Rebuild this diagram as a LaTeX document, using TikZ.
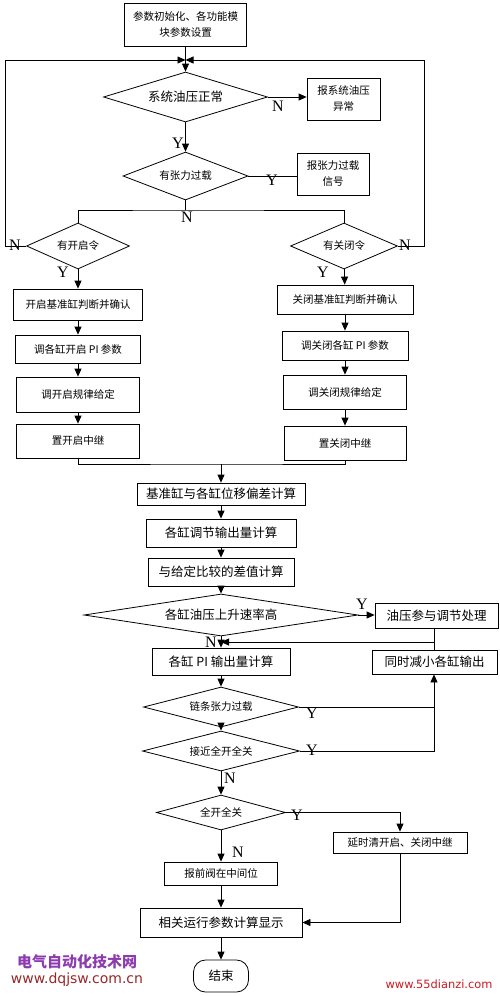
\documentclass[tikz,border=0pt]{standalone}
\usepackage{fontspec}
\setmainfont{Noto Sans CJK SC}
\newfontfamily\ynfont{Liberation Serif}
\newfontfamily\wmfont{DejaVu Sans}
\usepackage{tikz}
\usetikzlibrary{arrows.meta, shapes.geometric}
\definecolor{wmpurple}{RGB}{140,60,175}
\definecolor{wmbrown}{RGB}{150,40,40}
\definecolor{wmred}{RGB}{205,25,35}
\tikzstyle{box}=[rectangle, draw, align=center, inner sep=1pt, font=\fontsize{10.5}{16}\selectfont]
\tikzstyle{bigbox}=[box, font=\fontsize{12.5}{15}\selectfont]
\tikzstyle{ask}=[diamond, draw, inner sep=0pt, font=\fontsize{10.5}{14}\selectfont]
\tikzstyle{bigask}=[ask, font=\fontsize{12.5}{15}\selectfont]
\tikzstyle{yn}=[inner sep=0pt, font=\ynfont\fontsize{16}{16}\selectfont]

\begin{document}
\begin{tikzpicture}[x=1pt, y=-1pt, >={Triangle[length=8pt, width=7pt]}, line width=0.8pt]
    \useasboundingbox (0,0) rectangle (500,996);

    % checks at the top
    \node[box, minimum width=122, minimum height=43] (init) at (185.5,24.5) {参数初始化、各功能模\\块参数设置};
    \node[bigask, minimum width=164, minimum height=50, aspect=3.3] (d1) at (185.5,97) {系统油压正常};
    \node[box, minimum width=73, minimum height=42] (e1) at (343.5,99) {报系统油压\\异常};
    \node[ask, minimum width=125, minimum height=48, aspect=2.6] (d2) at (185.5,176) {有张力过载};
    \node[box, minimum width=72, minimum height=42] (e2) at (333,174) {报张力过载\\信号};
    \node[ask, minimum width=103, minimum height=46, aspect=2.2] (d3) at (78,246) {有开启令};
    \node[ask, minimum width=107, minimum height=46, aspect=2.3] (d4) at (344,246) {有关闭令};

    % open branch
    \node[box, minimum width=129, minimum height=31] (a1) at (78,304.5) {开启基准缸判断并确认};
    \node[box, minimum width=125, minimum height=28] (a2) at (78,349) {调各缸开启 PI 参数};
    \node[box, minimum width=123, minimum height=35] (a3) at (78,394.5) {调开启规律给定};
    \node[box, minimum width=123, minimum height=34] (a4) at (78,441) {置开启中继};

    % close branch
    \node[box, minimum width=136, minimum height=29] (b1) at (345,299.5) {关闭基准缸判断并确认};
    \node[box, minimum width=126, minimum height=29] (b2) at (345,345.5) {调关闭各缸 PI 参数};
    \node[box, minimum width=123, minimum height=34] (b3) at (345,392) {调关闭规律给定};
    \node[box, minimum width=122, minimum height=34] (b4) at (345,443) {置关闭中继};

    % control part
    \node[bigbox, minimum width=168, minimum height=22] (c1) at (221,494) {基准缸与各缸位移偏差计算};
    \node[bigbox, minimum width=150, minimum height=28] (c2) at (221,533) {各缸调节输出量计算};
    \node[bigbox, minimum width=146, minimum height=28] (c3) at (221,572) {与给定比较的差值计算};
    \node[bigask, minimum width=274, minimum height=42, aspect=6.5] (d5) at (221,615) {各缸油压上升速率高};
    \node[bigbox, minimum width=123, minimum height=25] (c4) at (436.5,615.5) {油压参与调节处理};
    \node[bigbox, minimum width=138, minimum height=27] (c5) at (221,661.5) {各缸 PI 输出量计算};
    \node[bigbox, minimum width=125, minimum height=24] (c6) at (434.5,662) {同时减小各缸输出};
    \node[ask, minimum width=155, minimum height=40, aspect=3.9] (d6) at (221,707) {链条张力过载};
    \node[ask, minimum width=157, minimum height=40, aspect=3.9] (d7) at (221,751) {接近全开全关};
    \node[ask, minimum width=129, minimum height=35, aspect=3.7] (d8) at (221,812.5) {全开全关};
    \node[box, minimum width=134, minimum height=21] (c7) at (400,842.5) {延时清开启、关闭中继};
    \node[box, minimum width=113, minimum height=23] (c8) at (221,873.5) {报前阀在中间位};
    \node[bigbox, minimum width=162, minimum height=29] (c9) at (221,922.5) {相关运行参数计算显示};
    \node[bigbox, rounded corners=12pt, minimum width=55, minimum height=32] (stop) at (221,976) {结束};

    % Y / N marks
    \node[yn] (n1) at (278,106) {N};
    \node[yn] (y1) at (178,143) {Y};
    \node[yn] (y2) at (272,180) {Y};
    \node[yn] (n2) at (187,217) {N};
    \node[yn] (n3) at (15,245) {N};
    \node[yn] (y3) at (63,272) {Y};
    \node[yn] (n4) at (405,245) {N};
    \node[yn] (y4) at (323,272) {Y};
    \node[yn] (y5) at (362,604) {Y};
    \node[yn] (n5) at (211,642) {N};
    \node[yn] (y6) at (312,713) {Y};
    \node[yn] (y7) at (312,750) {Y};
    \node[yn] (n7) at (230,778) {N};
    \node[yn] (y8) at (297,815) {Y};
    \node[yn] (n8) at (238,852) {N};

    % site marks
    \node[text=wmpurple, font=\bfseries\fontsize{15}{15}\selectfont] (wm1) at (77,962) {电气自动化技术网};
    \node[text=wmbrown, font=\wmfont\fontsize{14}{14}\selectfont] (wm2) at (77,980) {www.dqjsw.com.cn};
    \node[text=wmred, font=\wmfont\fontsize{11.4}{12}\selectfont] (wm3) at (439,984) {www.55dianzi.com};

    \coordinate (top) at (185.5,60);
    \coordinate (lcorner) at (5,60);
    \coordinate (rcorner) at (424,60);
    \coordinate (split) at (185.5,210);
    \coordinate (merge) at (221,464);
    \coordinate (back) at (434,642);

    \path[->]
      (init) edge (d1)
      (d1) edge (d2)
      (d3) edge (a1)
      (a1) edge (a2)
      (a2) edge (a3)
      (a3) edge (a4)
      (d4) edge (b1)
      (b1) edge (b2)
      (b2) edge (b3)
      (b3) edge (b4)
      (merge) edge (c1)
      (c1) edge (c2)
      (c2) edge (c3)
      (c3) edge (d5)
      (d5) edge (c5)
      (c5) edge (d6)
      (d6) edge (d7)
      (d7) edge (d8)
      (d8) edge (c8)
      (c8) edge (c9)
      (c9) edge (stop);

    \draw[->] (d1.east) -- (d1.east -| e1.west);
    \draw (d2.east) -- (d2.east -| e2.west);
    \draw[->] (d3.west) -| (lcorner) -- (top);
    \draw[->] (d4.east) -| (rcorner) -- (top);
    \draw (d2.south) -- (split);
    \draw (d3.north) |- (split) -| (d4.north);
    \draw (a4.south) |- (merge) -| (b4.south);

    \draw[->] (d5.east) -- (d5.east -| c4.west);
    \draw (c4.south -| back) -- (c6.north -| back);
    \draw[->] (back) -- (back -| d5.south);
    \draw (d6.east) -- (d6.east -| back);
    \draw[->] (d7.east) -| (c6.south -| back);
    \draw[->] (d8.east) -| (c7.north);
    \draw[->] (c7.south) |- (c9.east);
\end{tikzpicture}
\end{document}
